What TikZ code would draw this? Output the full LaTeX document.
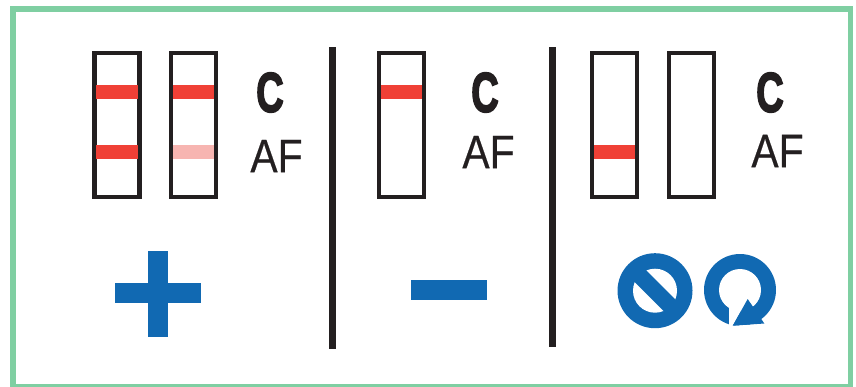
\documentclass[tikz,border=0pt]{standalone}
\usepackage{fontspec}
\setmainfont{Liberation Sans}
\newfontfamily\heavyface[FakeBold=3.2]{Liberation Sans Bold}
\newfontfamily\midface[FakeBold=0.4]{Liberation Sans}
\definecolor{frameG}{HTML}{7FCFA2}
\definecolor{inkK}{HTML}{231F20}
\definecolor{bandR}{HTML}{F04036}
\definecolor{bandP}{HTML}{F7B5B1}
\definecolor{signB}{HTML}{1169B2}
\newcommand{\letC}{\scalebox{.68}[1]{\fontsize{56}{56}\heavyface C}}
\newcommand{\letAF}{\scalebox{.87}[1]{\fontsize{47}{47}\midface AF}}
\tikzset{
  stripbox/.style={draw=inkK,line width=4.8pt,minimum width=45pt,minimum height=144pt,inner sep=0,outer sep=0,fill=white},
  bandbox/.style={fill=#1,minimum width=41.5pt,minimum height=14pt,inner sep=0,outer sep=0},
  lettxt/.style={inner sep=0,outer sep=0,text=inkK},
  divider/.style={fill=inkK,draw=none},
  signfill/.style={fill=signB,draw=none}
}
\begin{document}
\begin{tikzpicture}[x=1pt,y=-1pt]
\useasboundingbox (0,0) rectangle (856,386);
\begin{scope}
\clip (0,0) rectangle (856,386);
\draw[frameG,line width=5.5pt] (12.75,8.75) rectangle (850.5,387);
\end{scope}
% strips
\node[stripbox] (s1) at (116.8,125) {};
\node[stripbox] (s2) at (193.5,125) {};
\node[stripbox] (s3) at (401.5,125) {};
\node[stripbox] (s4) at (614.5,125) {};
\node[stripbox] (s5) at (691.5,125) {};
% bands
\node[bandbox=bandR] (b1) at (116.8,92) {};
\node[bandbox=bandR] (b2) at (116.8,152) {};
\node[bandbox=bandR] (b3) at (193.5,92) {};
\node[bandbox=bandP] (b4) at (193.5,152) {};
\node[bandbox=bandR] (b5) at (401.5,92) {};
\node[bandbox=bandR] (b6) at (614.5,152) {};
% letters
\node[lettxt] (c1) at (270,92.5) {\letC};
\node[lettxt] (a1) at (276.5,156) {\letAF};
\node[lettxt] (c2) at (485,92.5) {\letC};
\node[lettxt] (a2) at (488.5,152) {\letAF};
\node[lettxt] (c3) at (770,92.5) {\letC};
\node[lettxt] (a3) at (777.5,151) {\letAF};
% dividers
\fill[divider] (329,47) rectangle (336,349);
\fill[divider] (549,47) rectangle (555.5,347);
% plus and minus
\fill[signfill] (115,283) rectangle (201,303);
\fill[signfill] (148,251) rectangle (168,337);
\fill[signfill] (411,280) rectangle (487,300);
% no sign
\fill[signfill] (655,290.7) circle (37.5);
\fill[white] (655,290.7) circle (22);
\draw[signB,line width=16.5pt] (655,290.7) ++(-21,-21) -- ++(42,42);
% retry sign
\fill[signfill] (740,290) circle (36);
\fill[white] (740,290) circle (21);
\fill[white] (729,300) -- (729,332) -- (768,332) -- (764.5,323.5) -- (732.7,325.7) -- (747.7,299) -- cycle;
\fill[signfill] (732.7,325.7) -- (747.7,299) -- (764.3,323.5) -- cycle;
\end{tikzpicture}
\end{document}
